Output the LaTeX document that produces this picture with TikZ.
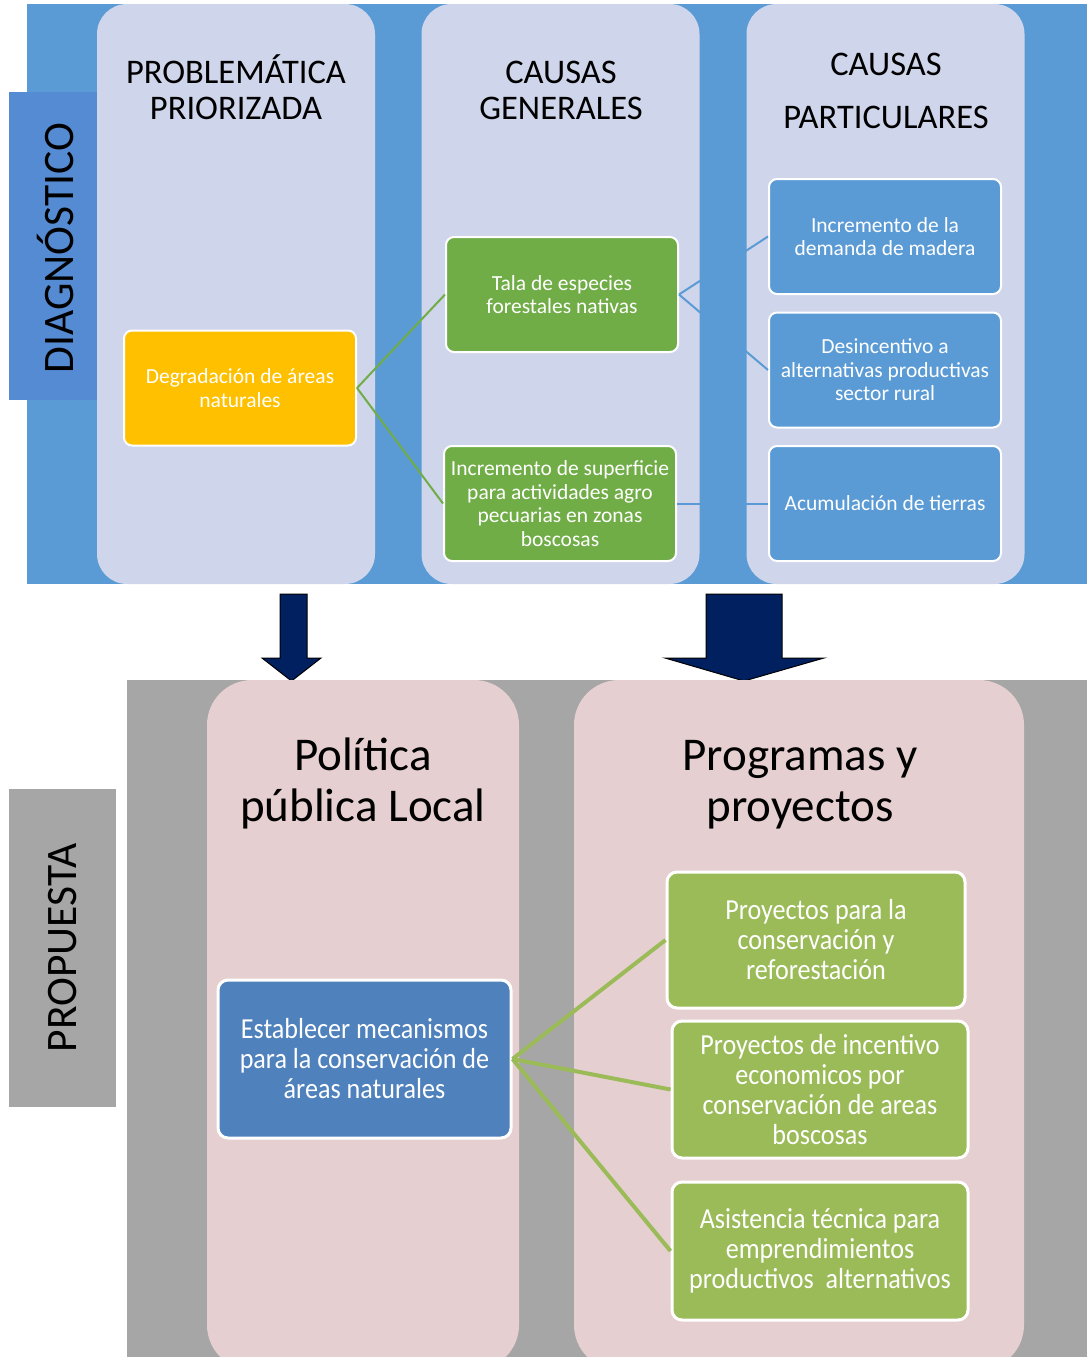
\documentclass[tikz,border=0pt]{standalone}
\usepackage{fontspec}
\setmainfont{Carlito}
\newfontfamily\condfont[FakeStretch=0.9]{Carlito}
\usetikzlibrary{positioning}
\definecolor{topblue}{HTML}{5B9BD5}
\definecolor{diagblue}{HTML}{558BD3}
\definecolor{lav}{HTML}{CFD5EA}
\definecolor{rosa}{HTML}{E6CFD0}
\definecolor{gris}{HTML}{A6A6A6}
\definecolor{amarillo}{HTML}{FFC000}
\definecolor{verde}{HTML}{70AD47}
\definecolor{verdeclaro}{HTML}{9BBB59}
\definecolor{azul}{HTML}{4F81BD}
\definecolor{marino}{HTML}{002060}
\begin{document}
\begin{tikzpicture}[x=1pt,y=-1pt,
    col/.style={fill=lav, rounded corners=30pt, minimum width=278pt,
      minimum height=580pt, inner sep=0pt},
    pcol/.style={fill=rosa, rounded corners=45pt, minimum height=690pt, inner sep=0pt},
    ttl/.style={align=center, font=\fontsize{34.5}{36}\selectfont},
    bttl/.style={align=center, font=\fontsize{47}{51}\selectfont},
    side/.style={rotate=90, font=\fontsize{43.5}{44}\selectfont},
    box/.style={draw=white, line width=2pt, rounded corners=8pt, text=white,
      align=center, inner sep=0pt, minimum width=232pt, minimum height=115pt,
      font=\fontsize{21.5}{23.5}\selectfont},
    pbox/.style={draw=white, line width=3pt, rounded corners=10pt, text=white,
      align=center, inner sep=0pt, fill=verdeclaro,
      font=\condfont\fontsize{29}{30}\selectfont},
    glink/.style={draw=verde, line width=2pt},
    blink/.style={draw=topblue, line width=2pt},
    plink/.style={draw=verdeclaro, line width=4pt},
    flecha/.style={fill=marino, draw=black, line width=1pt}]
  \useasboundingbox (0,0) rectangle (1087,1357);
  % diagnostico
  \node (topbg) [fill=topblue, anchor=north west, inner sep=0pt,
    minimum width=1060pt, minimum height=580pt] at (27,4) {};
  \node (diag) [fill=diagblue, minimum width=93pt, minimum height=308pt]
    at (55.5,246) {};
  \node [side] at (55.5,248) {DIAGNÓSTICO};
  \node (c1) [col] at (236,294) {};
  \node (c2) [col] at (560.5,294) {};
  \node (c3) [col] at (885.5,294) {};
  \node [ttl] at (236,87) {PROBLEMÁTICA\\PRIORIZADA};
  \node [ttl] at (561,90) {CAUSAS\\GENERALES};
  \node [ttl] at (886,90.5) {CAUSAS\\[17pt]PARTICULARES};
  \node (degr) [box, fill=amarillo] at (240,388) {Degradación de áreas\\naturales};
  \node (tala) [box, fill=verde] at (562,294.5) {Tala de especies\\forestales nativas};
  \node (superf) [box, fill=verde] at (560,503.5)
    {Incremento de superficie\\para actividades agro\\pecuarias en zonas\\boscosas};
  \node (dem) [box, fill=topblue] at (885,236.5) {Incremento de la\\demanda de madera};
  \node (desinc) [box, fill=topblue] at (885,370)
    {Desincentivo a\\alternativas productivas\\sector rural};
  \node (acum) [box, fill=topblue] at (885,503.5) {Acumulación de tierras};
  \path (degr.east) edge [glink] (tala.west) edge [glink] (superf.west);
  \path (tala.east) edge [blink] (dem.west) edge [blink] (desinc.west);
  \path (superf.east) edge [blink] (acum.west);
  % flechas
  \draw [flecha] (280,594) -- (307,594) -- (307,658) -- (321,658) -- (291.5,681)
    -- (262,658) -- (280,658) -- cycle;
  \draw [flecha] (706,594) -- (782,594) -- (782,658) -- (824,658) -- (744,681)
    -- (665,658) -- (706,658) -- cycle;
  % propuesta
  \node (botbg) [fill=gris, anchor=north west, inner sep=0pt,
    minimum width=960pt, minimum height=677pt] at (127,680) {};
  \node (prop) [fill=gris, minimum width=107pt, minimum height=318pt]
    at (62.5,948) {};
  \node [side] at (prop) {PROPUESTA};
  \node (p1) [pcol, minimum width=312pt] at (363,1025) {};
  \node (p2) [pcol, minimum width=450pt] at (799,1025) {};
  \node [bttl] at (363,783) {Política\\pública Local};
  \node [bttl] at (800,785) {Programas y\\proyectos};
  \node (mecan) [pbox, fill=azul, minimum width=293pt, minimum height=158pt]
    at (364.5,1059) {Establecer mecanismos\\para la conservación de\\áreas naturales};
  \node (proy1) [pbox, minimum width=298pt, minimum height=136pt] at (816,940)
    {Proyectos para la\\conservación y\\reforestación};
  \node (proy2) [pbox, minimum width=296pt, minimum height=137pt] at (820,1089.5)
    {Proyectos de incentivo\\economicos por\\conservación de areas\\boscosas};
  \node (asist) [pbox, minimum width=296pt, minimum height=138pt] at (820,1251)
    {Asistencia técnica para\\emprendimientos\\productivos\ \ alternativos};
  \path (mecan.east) edge [plink] (proy1.west) edge [plink] (proy2.west)
    edge [plink] (asist.west);
\end{tikzpicture}
\end{document}
